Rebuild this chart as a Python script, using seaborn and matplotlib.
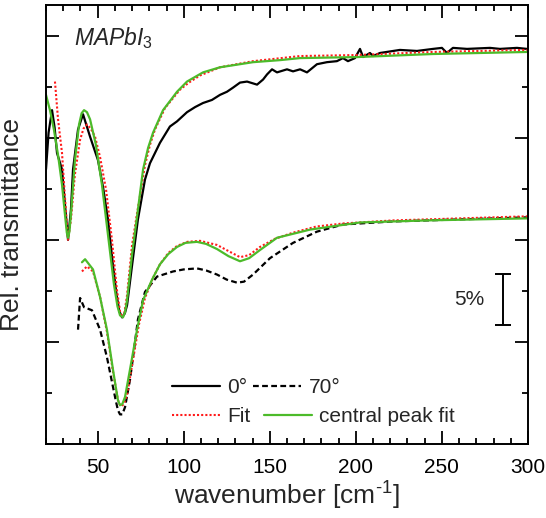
import matplotlib
matplotlib.use("Agg")
import matplotlib.pyplot as plt
import matplotlib.ticker as mticker
from matplotlib.lines import Line2D
import seaborn as sns
import pandas as pd

# ---------------- data (wavenumber [cm^-1], relative transmittance [%]) -------------
wn_0deg = [20, 21.5, 23.5, 25.0, 26.4, 29.3, 31.0, 32.8, 34.5, 35.7, 38.6, 41.5, 45.6,
           50.2, 53.1, 56.0, 58.9, 61.0, 62.6, 64.2, 65.8, 67.1, 70.0, 73.4, 77.5,
           80.4, 83.3, 86.2, 89.1,
           92.0, 96.1, 101.9, 106.6, 111.2, 116.4, 121.1, 125.1, 128.6, 132.7,
           136.8, 142.6, 146.1, 148.4, 151.3, 154.2, 160.0, 163.5, 167.6, 171.6,
           177.4, 183.2, 189.0, 192.5, 195.4, 199.5, 202.4, 204.2, 208.2, 210.0,
           214.0, 225.6, 235.5, 244.8, 250.0, 252.9, 256.4, 264.6, 277.9, 283.7,
           293.6, 299.4]
tr_0deg = [26.9, 30.5, 32.7, 31.0, 28.5, 26.9, 23.5, 20.0, 23.0, 26.9, 30.8, 32.3, 30.1,
           27.8, 25.2, 22.0, 17.5, 14.6, 13.0, 12.4, 12.8, 13.6, 17.5, 22.0, 25.9,
           27.5, 28.5, 29.5, 30.3,
           31.1, 31.6, 32.5, 33.0, 33.4, 33.7, 34.2, 34.5, 34.9, 35.4,
           35.5, 35.2, 35.7, 36.2, 36.7, 36.4, 36.7, 36.5, 36.7, 36.4,
           37.2, 37.4, 37.5, 37.8, 37.5, 37.8, 38.7, 37.9, 38.3, 38.0,
           38.3, 38.6, 38.5, 38.7, 38.8, 38.3, 38.8, 38.7, 38.8, 38.7,
           38.8, 38.7]

wn_fit_0deg = [25.2, 27.0, 29.3, 31.0, 32.8, 34.5, 36.8, 39.8, 41.8, 43.8, 46.0, 48.5,
               51.4, 54.9, 58.3, 61.2, 63.0, 64.2, 65.6, 67.1, 70.0, 72.9, 74.6, 77.5,
               80.4, 83.3, 89.1, 97.8, 103.0, 109.5, 121.1, 140.3, 167.6, 200.7, 244.8,
               299.4]
tr_fit_0deg = [35.5, 31.8, 28.5, 24.2, 20.0, 22.0, 26.4, 29.8, 30.9, 31.3, 30.9, 30.1,
               28.1, 24.9, 20.0, 15.1, 13.0, 12.4, 12.9, 14.6, 19.5, 22.6, 24.3, 27.3,
               29.3, 30.8, 32.9, 34.7, 35.4, 36.1, 36.9, 37.5, 38.0, 38.1, 38.4,
               38.6]

wn_cp_0deg = [20, 22.3, 24.6, 27.0, 29.3, 31.0, 32.1, 32.8, 33.6, 34.5, 36.8, 39.2,
              40.7, 42.1, 43.8, 45.6, 49.0, 52.5, 56.0, 59.5, 61.5, 63.0, 64.7, 65.9,
              67.1, 70.0, 72.9, 76.4, 79.3, 82.2, 88.0, 96.1, 101.9, 111.2, 121.1,
              140.3, 155.9, 167.6, 200.7, 244.8, 299.4]
tr_cp_0deg = [34.2, 32.7, 30.8, 28.3, 25.4, 22.5, 20.7, 20.2, 20.8, 22.5, 27.8, 31.3,
              32.4, 32.7, 32.5, 31.8, 29.3, 25.4, 20.5, 15.6, 13.5, 12.6, 12.4, 12.9,
              14.1, 18.6, 22.3, 26.9, 29.0, 30.5, 32.7, 34.5, 35.5, 36.4, 36.9,
              37.4, 37.6, 37.8, 37.9, 38.2, 38.4]

wn_70deg = [38.6, 39.8, 42.1, 46.7, 51.4, 55.4, 58.9, 60.6, 61.8, 63.0, 64.3, 65.9,
            68.8, 71.1, 73.4, 77.5, 84.5, 93.8, 100.0, 107.7, 113.0, 119.3, 125.0,
            131.0, 135.0, 140.3, 150.1, 163.5, 177.4, 192.5, 221.6, 299.4]
tr_70deg = [11.2, 14.3, 13.4, 13.1, 11.2, 8.5, 5.6, 4.2, 3.3, 2.9, 2.9, 3.6,
            6.3, 9.2, 12.2, 14.9, 16.4, 16.9, 17.1, 17.2, 17.0, 16.6, 16.1,
            15.8, 15.9, 16.6, 18.2, 19.7, 20.8, 21.5, 21.8, 22.2]

wn_fit_70deg = [40.9, 43.8, 47.3, 51.4, 55.4, 58.9, 61.8, 63.0, 64.2, 65.6, 67.1, 70.0,
                74.0, 77.5, 82.2, 86.2, 91.0, 96.1, 102.0, 109.5, 119.3, 126.0, 132.7,
                138.0, 144.3, 153.0, 163.5, 177.0, 192.5, 221.6, 299.4]
tr_fit_70deg = [16.9, 17.4, 16.9, 14.4, 11.0, 7.1, 4.3, 3.8, 3.7, 4.1, 4.8, 7.7,
                11.7, 14.3, 16.3, 17.6, 18.7, 19.4, 19.8, 19.9, 19.5, 18.9, 18.3,
                18.5, 19.3, 20.1, 20.7, 21.3, 21.6, 21.9, 22.3]

wn_cp_70deg = [40.9, 42.7, 47.3, 51.4, 55.4, 58.9, 60.6, 61.8, 63.0, 64.3, 65.9, 68.8,
               72.9, 76.4, 81.6, 86.2, 91.0, 96.1, 101.0, 107.7, 113.0, 119.3, 126.0,
               132.7, 138.0, 144.3, 154.2, 173.4, 202.4, 241.3, 299.4]
tr_cp_70deg = [17.8, 18.1, 17.1, 14.4, 11.2, 7.3, 5.5, 4.3, 3.8, 3.9, 4.6, 7.3,
               11.2, 14.1, 16.1, 17.6, 18.6, 19.3, 19.7, 19.8, 19.6, 19.1, 18.4,
               17.9, 18.2, 19.0, 20.2, 21.0, 21.7, 21.9, 22.1]

legend_labels = ["0°", "70°", "Fit", "central peak fit"]
sample_label = r"$\mathit{MAPbI}_{\mathit{3}}$"
scale_label = "5%"
scale_center = 14.2
scale_size = 5.0
xlabel = "wavenumber [cm$^{\\mathregular{\u2010}\\mathregular{1}}$]"
ylabel = "Rel. transmittance"
x_major = [50, 100, 150, 200, 250, 300]

# ---------------- style ----------------
sns.set_style("ticks")
plt.rcParams["font.family"] = ["Liberation Sans", "DejaVu Sans"]
plt.rcParams["mathtext.fontset"] = "custom"
plt.rcParams["mathtext.rm"] = "Liberation Sans"
plt.rcParams["mathtext.it"] = "Liberation Sans:italic"
plt.rcParams["lines.solid_joinstyle"] = "round"
plt.rcParams["lines.dash_joinstyle"] = "round"

RED = "#ff1a1a"
GREEN = "#4cbb2a"
DASH = (0, (2.6, 1.5))
DOT = (0, (1, 1))

fig = plt.figure(figsize=(5.46, 5.18), dpi=100)
ax = fig.add_axes([46 / 546, 1 - 444 / 518, 482 / 546, 439 / 518])

def draw(x, y, **kw):
    df = pd.DataFrame({"x": x, "y": y})
    sns.lineplot(data=df, x="x", y="y", ax=ax, estimator=None, sort=False, **kw)

draw(wn_0deg, tr_0deg, color="black", linewidth=1.6)
draw(wn_70deg, tr_70deg, color="black", linewidth=1.6, linestyle=DASH)
draw(wn_fit_0deg, tr_fit_0deg, color=RED, linewidth=1.5, linestyle=DOT)
draw(wn_fit_70deg, tr_fit_70deg, color=RED, linewidth=1.5, linestyle=DOT)
draw(wn_cp_0deg, tr_cp_0deg, color=GREEN, linewidth=1.6)
draw(wn_cp_70deg, tr_cp_70deg, color=GREEN, linewidth=1.6)

ax.set_xlim(20, 300)
ax.set_ylim(0, 43)
ax.xaxis.set_major_locator(mticker.FixedLocator(x_major))
ax.xaxis.set_minor_locator(mticker.MultipleLocator(10))
ax.yaxis.set_major_locator(mticker.MultipleLocator(10))
ax.yaxis.set_minor_locator(mticker.MultipleLocator(5))
ax.set_yticklabels([])
ax.tick_params(which="both", direction="in", top=True, right=True, width=1.3,
               colors="black")
ax.tick_params(which="major", length=9.5)
ax.tick_params(which="minor", length=4.5)
ax.tick_params(axis="x", which="major", labelsize=15, pad=10)
for s in ax.spines.values():
    s.set_linewidth(1.4)
    s.set_color("black")

ax.set_xlabel(xlabel, fontsize=19, labelpad=2)
ax.set_ylabel(ylabel, fontsize=19, labelpad=12)

ax.text(0.058, 0.925, sample_label, transform=ax.transAxes, fontsize=16.5,
        ha="left", va="center")

# 5% scale bar
ax.errorbar([285.5], [scale_center], yerr=[[scale_size / 2], [scale_size / 2]],
            fmt="none", ecolor="black", elinewidth=1.4, capsize=5.5, capthick=1.4)
ax.text(274.5, scale_center, scale_label, fontsize=15, ha="right", va="center")

# legends
h0 = Line2D([], [], color="black", linewidth=1.6)
h70 = Line2D([], [], color="black", linewidth=1.6, linestyle=DASH)
hfit = Line2D([], [], color=RED, linewidth=1.5, linestyle=DOT)
hcp = Line2D([], [], color=GREEN, linewidth=1.6)
leg1 = ax.legend([h0, h70], legend_labels[:2], ncol=2, frameon=False, fontsize=15,
                 loc="center left", bbox_to_anchor=(0.261, 0.129), borderpad=0,
                 borderaxespad=0, handlelength=2.3, handletextpad=0.35,
                 columnspacing=0.3)
ax.add_artist(leg1)
ax.legend([hfit, hcp], legend_labels[2:], ncol=2, frameon=False, fontsize=15,
          loc="center left", bbox_to_anchor=(0.261, 0.063), borderpad=0,
          borderaxespad=0, handlelength=2.3, handletextpad=0.35,
          columnspacing=0.65)

fig.savefig("out.png", dpi=100)
